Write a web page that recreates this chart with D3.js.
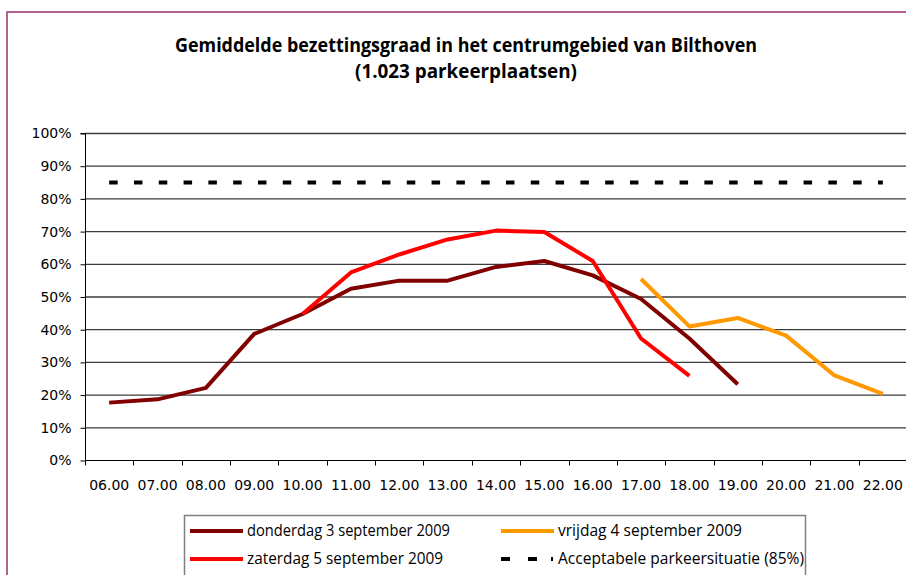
<!DOCTYPE html>
<html>
<head>
<meta charset="utf-8">
<script src="https://cdnjs.cloudflare.com/ajax/libs/d3/7.8.5/d3.min.js"></script>
<style>
  body { margin: 0; background: #fff; }
  svg { display: block; }
  .tick text { font-family: "DejaVu Sans", Verdana, sans-serif; font-size: 14px; fill: #000; }
</style>
</head>
<body>
<div class="chart"></div>
<script>
var svgWidth = 906;
var svgHeight = 575;

// categories (hours)
var hours = ["06.00", "07.00", "08.00", "09.00", "10.00", "11.00", "12.00", "13.00",
  "14.00", "15.00", "16.00", "17.00", "18.00", "19.00", "20.00", "21.00", "22.00"];

// occupancy in %
var donderdagHours = ["06.00", "07.00", "08.00", "09.00", "10.00", "11.00", "12.00", "13.00",
  "14.00", "15.00", "16.00", "17.00", "18.00", "19.00"];
var donderdag = [17.7, 18.7, 22.2, 38.7, 44.8, 52.5, 55.0, 55.0, 59.2, 61.0, 56.6, 49.4, 37.3, 23.3];

var zaterdagHours = ["10.00", "11.00", "12.00", "13.00", "14.00", "15.00", "16.00", "17.00", "18.00"];
var zaterdag = [44.8, 57.5, 63.0, 67.6, 70.3, 69.9, 61.0, 37.3, 25.9];

var vrijdagHours = ["17.00", "18.00", "19.00", "20.00", "21.00", "22.00"];
var vrijdag = [55.5, 41.0, 43.6, 38.2, 26.0, 20.4];

var acceptabel = 85;
var yTicks = [0, 10, 20, 30, 40, 50, 60, 70, 80, 90, 100];

var titleLines = ["Gemiddelde bezettingsgraad in het centrumgebied van Bilthoven", "(1.023 parkeerplaatsen)"];
var legendLabels = ["donderdag 3 september 2009", "vrijdag 4 september 2009",
  "zaterdag 5 september 2009", "Acceptabele parkeersituatie (85%)"];

var margin = { top: 133, right: 0, bottom: 115, left: 85 };
var width = svgWidth - margin.left - margin.right;
var height = svgHeight - margin.top - margin.bottom;

var svg = d3.select(".chart")
  .append("svg")
  .attr("width", svgWidth)
  .attr("height", svgHeight);

// outer frame
svg.append("rect")
  .attr("x", 7).attr("y", 12)
  .attr("width", 920).attr("height", 600)
  .attr("fill", "none")
  .attr("stroke", "#b4628e")
  .attr("stroke-width", 2);

// title
var titleWidths = [582, 222];
titleLines.forEach(function (t, i) {
  svg.append("text")
    .attr("x", 466)
    .attr("y", 52 + i * 26)
    .attr("text-anchor", "middle")
    .attr("textLength", titleWidths[i])
    .attr("lengthAdjust", "spacingAndGlyphs")
    .style("font-family", "'Open Sans', sans-serif")
    .style("font-weight", "bold")
    .style("font-size", "19px")
    .text(t);
});

var chartGroup = svg.append("g")
  .attr("transform", `translate(${margin.left}, ${margin.top})`);

var xBand = d3.scaleBand()
  .domain(hours)
  .range([0, width + 1]);

var x = d => xBand(d) + xBand.bandwidth() / 2;

var y = d3.scaleLinear()
  .domain([0, 100])
  .range([height + 0.5, 0.5]);

// gridlines
chartGroup.append("g")
  .selectAll("line")
  .data(yTicks.slice(1))
  .enter()
  .append("line")
  .attr("x1", 0).attr("x2", width + 1)
  .attr("y1", d => y(d)).attr("y2", d => y(d))
  .attr("stroke", "#3c3c3c")
  .attr("stroke-width", 1.3);

// y axis
var leftAxis = d3.axisLeft(y)
  .tickValues(yTicks)
  .tickSize(5)
  .tickPadding(9)
  .tickFormat(d => d + "%");

chartGroup.append("g")
  .attr("transform", "translate(0.5, 0)")
  .call(leftAxis)
  .call(g => g.select(".domain").attr("d", `M-5,${y(100)}H0V${y(0)}`).attr("stroke", "#000"));

// x axis, ticks between categories
var bottomAxis = d3.axisBottom(xBand)
  .tickSize(0)
  .tickPadding(20);

var xAxisG = chartGroup.append("g")
  .attr("transform", `translate(0, ${y(0)})`)
  .call(bottomAxis);
xAxisG.select(".domain").attr("stroke", "#000").attr("d", `M0,0H${width + 1}`);

xAxisG.selectAll(".sep")
  .data(hours)
  .enter()
  .append("line")
  .attr("x1", d => Math.round(xBand(d)) + 0.5)
  .attr("x2", d => Math.round(xBand(d)) + 0.5)
  .attr("y1", 0).attr("y2", 5)
  .attr("stroke", "#000");

// lines
var series = [
  { hours: donderdagHours, values: donderdag, color: "#800000" },
  { hours: zaterdagHours, values: zaterdag, color: "#ff0000" },
  { hours: vrijdagHours, values: vrijdag, color: "#ff9900" }
];

var line = d3.line()
  .x(d => x(d[0]))
  .y(d => y(d[1]));

// reference line at 85%
chartGroup.append("path")
  .attr("d", line([[hours[0], acceptabel], [hours[hours.length - 1], acceptabel]]))
  .attr("fill", "none")
  .attr("stroke", "#000")
  .attr("stroke-width", 4)
  .attr("stroke-dasharray", "8.5,16.3");

series.forEach(function (s) {
  chartGroup.append("path")
    .attr("d", line(s.hours.map((h, i) => [h, s.values[i]])))
    .attr("fill", "none")
    .attr("stroke", s.color)
    .attr("stroke-width", 4)
    .attr("stroke-linejoin", "round");
});

// legend
var legend = svg.append("g");
legend.append("rect")
  .attr("x", 184.5).attr("y", 515.5)
  .attr("width", 621).attr("height", 80)
  .attr("fill", "#fff")
  .attr("stroke", "#7f7f7f")
  .attr("stroke-width", 1.5);

var legendItems = [
  { label: legendLabels[0], color: "#800000", dash: null, x: 190, y: 531, w: 203 },
  { label: legendLabels[1], color: "#ff9900", dash: null, x: 501, y: 531, w: 184 },
  { label: legendLabels[2], color: "#ff0000", dash: null, x: 190, y: 559, w: 196 },
  { label: legendLabels[3], color: "#000", dash: "9,18,9,14,2,10", x: 501, y: 559, w: 246 }
];

legendItems.forEach(function (d) {
  legend.append("line")
    .attr("x1", d.x).attr("x2", d.x + 53)
    .attr("y1", d.y).attr("y2", d.y)
    .attr("stroke", d.color)
    .attr("stroke-width", 4)
    .attr("stroke-dasharray", d.dash);
  legend.append("text")
    .attr("x", d.x + 57)
    .attr("y", d.y + 5)
    .attr("textLength", d.w)
    .attr("lengthAdjust", "spacingAndGlyphs")
    .style("font-family", "'Open Sans', sans-serif")
    .style("font-size", "15.5px")
    .text(d.label);
});
</script>
</body>
</html>
